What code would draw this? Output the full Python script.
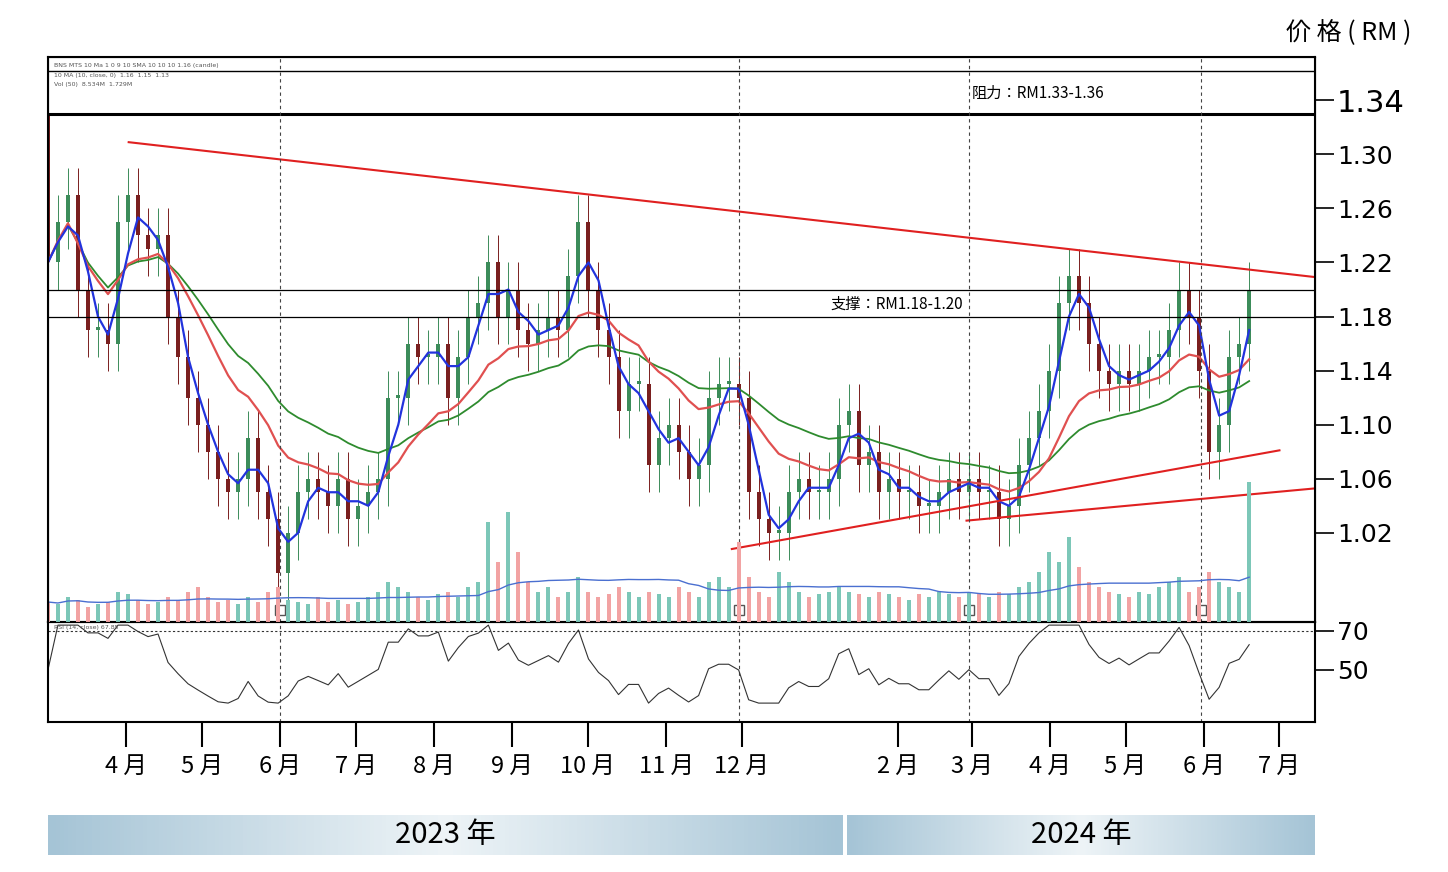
import numpy as np, pandas as pd, matplotlib
matplotlib.use("Agg")
import matplotlib.pyplot as plt, matplotlib.dates as mdates, seaborn as sns
from matplotlib.colors import LinearSegmentedColormap
plt.rcParams["font.family"] = ["DejaVu Sans","Noto Sans CJK SC","Noto Sans CJK JP"]
CJK = ["Noto Sans CJK JP","Noto Sans CJK SC","DejaVu Sans"]

closes = [1.22,1.25,1.27,1.20,1.17,1.17,1.16,1.25,1.27,1.24,1.23,1.24,1.18,1.15,1.12,1.10,1.08,1.06,1.05,1.06,
          1.09,1.05,1.03,0.99,1.02,1.05,1.06,1.05,1.04,1.06,1.03,1.04,1.05,1.06,1.12,1.12,1.16,1.15,1.15,1.16,
          1.12,1.15,1.18,1.19,1.22,1.18,1.20,1.17,1.16,1.17,1.18,1.17,1.21,1.25,1.20,1.17,1.15,1.11,1.13,1.13,
          1.07,1.09,1.10,1.08,1.06,1.07,1.12,1.13,1.13,1.12,1.05,1.03,1.02,1.02,1.05,1.06,1.05,1.05,1.06,1.10,
          1.11,1.07,1.08,1.05,1.06,1.05,1.05,1.04,1.04,1.05,1.06,1.05,1.06,1.05,1.05,1.03,1.04,1.07,1.09,1.11,
          1.14,1.19,1.21,1.19,1.16,1.14,1.13,1.14,1.13,1.14,1.15,1.15,1.17,1.20,1.18,1.14,1.08,1.10,1.15,1.16,1.20]
volumes = [20,18,25,22,15,18,20,30,28,22,18,20,25,22,30,35,25,20,22,18,
           25,20,30,35,22,20,18,25,20,22,18,20,25,30,40,35,30,25,22,28,
           30,25,35,40,100,60,110,70,40,30,35,25,30,45,30,25,28,35,30,25,
           30,28,25,35,30,25,40,45,35,80,45,30,25,50,40,30,25,28,30,35,
           30,28,25,30,28,25,22,28,25,30,28,25,30,28,25,30,28,35,40,50,
           70,60,85,55,40,35,30,28,25,30,28,35,40,45,30,35,50,40,35,30,140]
month_ticks = ["2023-04-01","2023-05-01","2023-06-01","2023-07-01","2023-08-01","2023-09-01","2023-10-01",
               "2023-11-01","2023-12-01","2024-02-01","2024-03-01","2024-04-01","2024-05-01","2024-06-01","2024-07-01"]
month_labels = ["4 月","5 月","6 月","7 月","8 月","9 月","10 月","11 月","12 月","2 月","3 月","4 月","5 月","6 月","7 月"]
price_ticks = [1.34,1.30,1.26,1.22,1.18,1.14,1.10,1.06,1.02]
resist = [1.33,1.362]; support = [1.18,1.20]
trend_upper = (["2023-04-02","2024-07-16"],[1.309,1.209])
trend_low1 = (["2023-11-27","2024-07-01"],[1.008,1.081])
trend_low2 = (["2024-02-28","2024-07-16"],[1.029,1.053])
vlines_dates = ["2023-06-01","2023-11-30","2024-02-29","2024-05-31"]

n = len(closes)
dates = pd.date_range("2023-03-01","2024-06-19",periods=n)
df = pd.DataFrame({"date":dates,"close":closes,"vol":volumes})
df["open"] = df["close"].shift(1).fillna(1.33)
df["ma_s"] = df["close"].rolling(3,min_periods=1).mean()
df["ma_m"] = df["close"].ewm(span=14).mean()
df["ma_l"] = df["close"].ewm(span=30).mean()
d = df["close"].diff()
up = d.clip(lower=0).ewm(alpha=1/9,adjust=False).mean(); dn = (-d.clip(upper=0)).ewm(alpha=1/9,adjust=False).mean()
df["rsi"] = (100-100/(1+up/(dn+1e-9))).fillna(50).clip(33,73)

fig = plt.figure(figsize=(14.48,8.72),dpi=100)
ax = fig.add_axes([0.0331,0.2867,0.8749,0.6479])
ar = fig.add_axes([0.0331,0.172,0.8749,0.1147],sharex=ax)
x0,x1 = pd.Timestamp("2023-03-01"),pd.Timestamp("2024-07-15")
ax.set_xlim(x0,x1); ax.set_ylim(0.954,1.372)

av = ax.twinx(); av.set_ylim(0,565); av.set_yticks([])
bw = (dates[1]-dates[0])*0.4
vc = ["#7cc7b8" if c>=o else "#f2a3a3" for c,o in zip(df.close,df.open)]
av.bar(df.date,df.vol,width=bw,color=vc)
sns.lineplot(x=df.date,y=df.vol.rolling(20,min_periods=1).mean(),ax=av,color="#4a6fd0",lw=1)
av.set_ylabel("")

for _,r in df.iterrows():
    col = "#3c8c5a" if r.close>=r.open else "#7a1f1f"
    hi = max(r.close,r.open)+0.02; lo = min(r.close,r.open)-0.02
    ax.vlines(r.date,lo,hi,color=col,lw=0.7)
    ax.bar(r.date,abs(r.close-r.open) or 0.002,bottom=min(r.close,r.open),width=bw,color=col)
sns.lineplot(x=df.date,y=df.ma_l,ax=ax,color="#2e8b2e",lw=1.3)
sns.lineplot(x=df.date,y=df.ma_m,ax=ax,color="#e05050",lw=1.6)
sns.lineplot(x=df.date,y=df.ma_s,ax=ax,color="#2233dd",lw=1.6)
for tl in (trend_upper,trend_low1,trend_low2):
    ax.plot(pd.to_datetime(tl[0]),tl[1],color="#e02020",lw=1.5)
ax.axhline(resist[0],color="k",lw=2.2); ax.axhline(resist[1],color="k",lw=1)
for s in support: ax.axhline(s,color="k",lw=0.9)
for v in vlines_dates:
    for a in (ax,ar): a.axvline(pd.Timestamp(v),color="#444",lw=0.8,ls=(0,(3,3)))
    ax.plot(pd.Timestamp(v),0.963,marker="s",mfc="white",mec="#555",ms=7)
ax.text(pd.Timestamp("2024-03-01"),1.342,"阻力：RM1.33-1.36",fontsize=11,fontfamily=CJK)
ax.text(pd.Timestamp("2024-01-05"),1.186,"支撑：RM1.18-1.20",fontsize=11,fontfamily=CJK)
ax.text(0.005,0.99,"BNS MTS 10 Ma 1 0 9 10 SMA 10 10 10 1.16 (candle)",transform=ax.transAxes,fontsize=4.5,va="top",color="#555")
ax.text(0.005,0.972,"10 MA (10, close, 0)  1.16  1.15  1.13",transform=ax.transAxes,fontsize=4.5,va="top",color="#555")
ax.text(0.005,0.955,"Vol (50)  8.534M  1.729M",transform=ax.transAxes,fontsize=4.5,va="top",color="#555")
ax.yaxis.tick_right(); ax.set_yticks(price_ticks)
ax.set_yticklabels([f"{t:.2f}" for t in price_ticks])
ax.tick_params(axis="y",length=14,width=1.2,labelsize=18,pad=2)
ax.get_yticklabels()[0].set_fontsize(22)
ax.tick_params(axis="x",bottom=False,labelbottom=False)
ax.set_xlabel(""); ax.set_ylabel("")

sns.lineplot(x=df.date,y=df.rsi,ax=ar,color="#333",lw=0.8)
ar.axhline(70,color="#333",lw=0.8,ls=(0,(2,2)))
ar.set_ylim(23.3,74.6); ar.yaxis.tick_right(); ar.set_yticks([70,50])
ar.tick_params(axis="y",length=14,width=1.2,labelsize=18,pad=2)
ar.set_xticks(pd.to_datetime(month_ticks)); ar.set_xticklabels(month_labels,fontfamily=CJK)
ar.tick_params(axis="x",length=18,width=1.5,labelsize=17,pad=6)
ar.set_xlabel(""); ar.set_ylabel("")
ar.text(0.005,0.97,"RSI (14, close) 67.85",transform=ar.transAxes,fontsize=4.5,va="top",color="#555")
for a in (ax,ar):
    for s in a.spines.values(): s.set_linewidth(1.5)
fig.text(0.975,0.955,"价 格 ( RM )",fontsize=18,ha="right",fontfamily=CJK)
cm = LinearSegmentedColormap.from_list("b",["#a5c4d6","#eef4f7","#a5c4d6"])
for (l,w,t) in [(0.0331,0.5484,"2023 年"),(0.5849,0.3231,"2024 年")]:
    bx = fig.add_axes([l,0.0195,w,0.0459]); bx.imshow(np.linspace(0,1,200)[None,:],aspect="auto",cmap=cm,extent=[0,1,0,1])
    bx.axis("off"); bx.text(0.5,0.5,t,ha="center",va="center",fontsize=21,fontfamily=CJK)
fig.savefig("out.png",dpi=100)
